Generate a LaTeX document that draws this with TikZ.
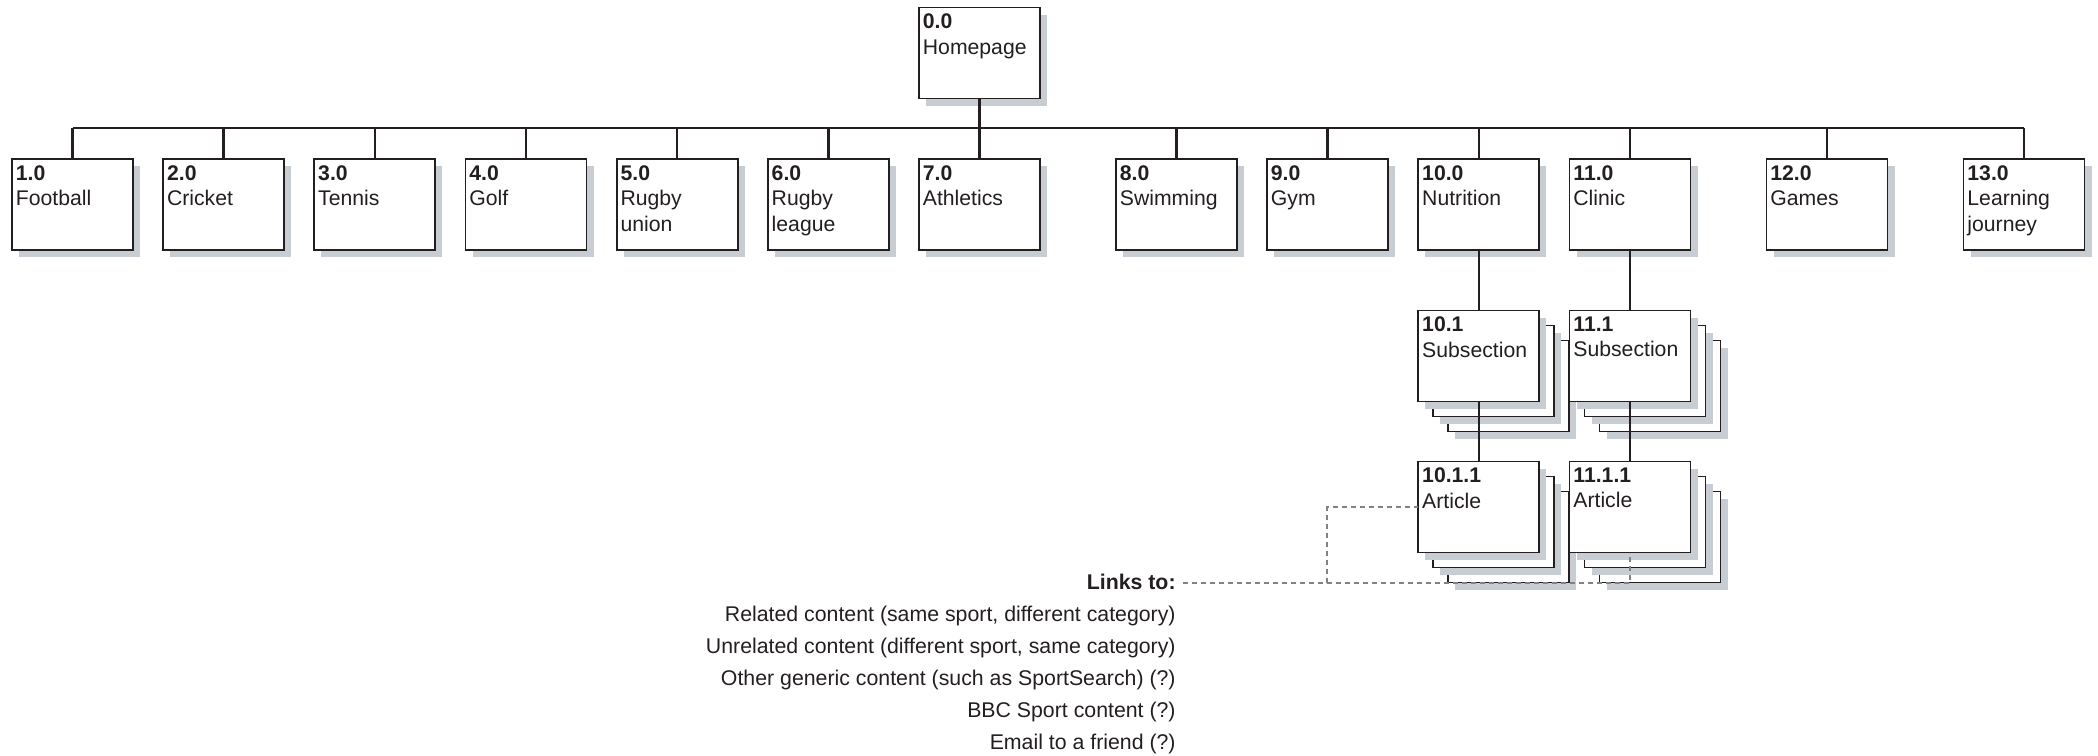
\documentclass[tikz,border=0pt]{standalone}
\usepackage{fontspec}
\setmainfont{Liberation Sans}
\definecolor{ink}{HTML}{231F20}
\definecolor{shade}{HTML}{C8CCD3}
\definecolor{dashc}{HTML}{808285}
\tikzset{
 x=0.5pt, y=-0.5pt,
 pbox/.style={draw=ink, fill=white, line width=0.9pt, minimum width=60.5pt, minimum height=45.5pt, inner sep=0pt, outer sep=0pt},
 sbox/.style={fill=shade, minimum width=60.5pt, minimum height=45.5pt, inner sep=0pt, outer sep=0pt},
 lbl/.style={anchor=north west, inner sep=0pt, align=left, text=ink, font=\fontsize{10.6}{12.75}\selectfont},
 conn/.style={draw=ink, line width=1.3pt},
 linkline/.style={draw=dashc, line width=1pt, dash pattern=on 2.5pt off 2pt},
 txt/.style={anchor=base east, inner sep=0pt, text=ink, font=\fontsize{10.65}{12.75}\selectfont},
}
\newcommand\pgbox[5]{%
 \node[sbox] at (#2+7,#3+7) {};
 \node[pbox] (#1) at (#2,#3) {};
 \node[lbl] at ([shift={(3.5,6)}]#1.north west) {\textbf{#4}\\#5};
}
\newcommand\pgstack[5]{%
 \node[sbox] at (#2+37,#3+37) {};
 \node[pbox] at (#2+30,#3+30) {};
 \node[sbox] at (#2+22,#3+22) {};
 \node[pbox] at (#2+15,#3+15) {};
 \pgbox{#1}{#2}{#3}{#4}{#5}
}
\begin{document}
\begin{tikzpicture}
\useasboundingbox (0,0) rectangle (2098,755);
\pgbox{n0}{979.5}{53}{0.0}{Homepage}
\pgbox{n1}{72.5}{204.5}{1.0}{Football}
\pgbox{n2}{223.67}{204.5}{2.0}{Cricket}
\pgbox{n3}{374.83}{204.5}{3.0}{Tennis}
\pgbox{n4}{526}{204.5}{4.0}{Golf}
\pgbox{n5}{677.17}{204.5}{5.0}{Rugby\\union}
\pgbox{n6}{828.33}{204.5}{6.0}{Rugby\\league}
\pgbox{n7}{979.5}{204.5}{7.0}{Athletics}
\pgbox{n8}{1176.5}{204.5}{8.0}{Swimming}
\pgbox{n9}{1327.5}{204.5}{9.0}{Gym}
\pgbox{n10}{1478.8}{204.5}{10.0}{Nutrition}
\pgbox{n11}{1630}{204.5}{11.0}{Clinic}
\pgbox{n12}{1827}{204.5}{12.0}{Games}
\pgbox{n13}{2024}{204.5}{13.0}{Learning\\journey}
\pgstack{n101}{1478.8}{356}{10.1}{Subsection}
\pgstack{n111}{1630}{356}{11.1}{Subsection}
\pgstack{n1011}{1478.8}{507}{10.1.1}{Article}
\pgstack{n1111}{1630}{507}{11.1.1}{Article}
% connectors
\coordinate (bus) at (979.5,128);
\draw[conn] (n0.south) -- (bus);
\draw[conn] (n1.north |- bus) -- (n13.north |- bus);
\foreach \n in {n1,n2,n3,n4,n5,n6,n7,n8,n9,n10,n11,n12,n13}
  \draw[conn] (\n.north |- bus) -- (\n.north);
\draw[conn] (n10.south) -- (n101.north);
\draw[conn] (n11.south) -- (n111.north);
\draw[conn] (n101.south) -- (n1011.north);
\draw[conn] (n111.south) -- (n1111.north);
% links
\node[txt] (links) at (1176,589.3) {\textbf{Links to:}};
\node[txt] (l1) at (1176,621.3) {Related content (same sport, different category)};
\node[txt] (l2) at (1176,653.3) {Unrelated content (different sport, same category)};
\node[txt] (l3) at (1176,685.3) {Other generic content (such as SportSearch) (?)};
\node[txt] (l4) at (1176,717.3) {BBC Sport content (?)};
\node[txt] (l5) at (1176,749.3) {Email to a friend (?)};
\coordinate (j) at (1327,582.5);
\draw[linkline] ([xshift=3.5pt]links.east |- j) -- (j) |- (n1011.west);
\draw[linkline] (j) -| (n1111.south);
\end{tikzpicture}
\end{document}
